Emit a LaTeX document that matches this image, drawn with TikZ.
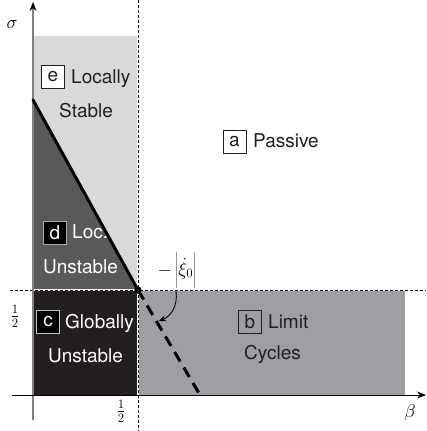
\RequirePackage{fix-cm}
\documentclass[tikz,border=0pt]{standalone}
\usepackage{fontspec}
\setmainfont{TeX Gyre Heros}
\usetikzlibrary{arrows.meta}
\definecolor{regE}{RGB}{217,217,218}
\definecolor{regD}{RGB}{88,89,91}
\definecolor{regC}{RGB}{35,31,32}
\definecolor{regB}{RGB}{157,159,162}
\definecolor{txt}{RGB}{35,31,32}
\tikzset{
  lbox/.style={draw=txt, line width=0.7pt, fill=white, text=txt, minimum size=23pt, inner sep=0pt},
  dbox/.style={draw=black!35, line width=0.7pt, fill=black, text=white, minimum size=23pt, inner sep=0pt},
  word/.style={anchor=base west, inner sep=0pt, text=txt},
  wword/.style={anchor=base west, inner sep=0pt, text=white},
  mlab/.style={inner sep=0pt, text=black, font=\fontsize{18.5}{21}\selectfont},
  guide/.style={line width=0.6pt, dash pattern=on 3pt off 2pt},
  gap/.style={white, line width=2pt},
  bound/.style={line width=3pt, black}
}
\begin{document}
\begin{tikzpicture}[x=1pt,y=-1pt,font=\fontsize{19}{21}\selectfont]
\useasboundingbox (0,0) rectangle (426,431);
% regions
\fill[regE] (33,36) rectangle (138,290);
\fill[regD] (33,100) -- (138,290) -- (33,290) -- cycle;
\fill[regC] (33,290) rectangle (138,395);
\fill[regB] (138,290) rectangle (405,395);
% guides
\coordinate (vt) at (138,0);
\coordinate (vb) at (138,431);
\coordinate (hl) at (10,290);
\coordinate (hr) at (426,290);
\draw[gap] (vt) -- (vb);
\draw[gap] (hl) -- (hr);
\draw[guide] (vt) -- (vb);
\draw[guide] (hl) -- (hr);
% axes
\coordinate (yb) at (33,420);
\coordinate (yt) at (33,2);
\coordinate (xl) at (12,395);
\coordinate (xr) at (426,395);
\draw[black!50, line width=1.4pt, -{Stealth[length=9pt,width=7pt,color=black]}] (yb) -- (yt);
\draw[black, line width=0.9pt, -{Stealth[length=9pt,width=7pt]}] (xl) -- (xr);
% boundary
\coordinate (p0) at (33,100);
\coordinate (p1) at (138,290);
\coordinate (p2) at (200,395);
\draw[bound, line cap=round] (p0) -- (p1);
\draw[bound, dash pattern=on 11pt off 7pt] (p1) -- (p2);
\fill (p1) circle (3.6pt);
% labels
\node[mlab] (sig) at (12,25) {$\sigma$};
\node[mlab] (bet) at (410,413) {$\beta$};
\node[mlab] (hy) at (15,316) {$\frac{1}{2}$};
\node[mlab] (hx) at (121,411) {$\frac{1}{2}$};
\node[mlab] (xi) at (177,270) {$-\left|\rule[-14pt]{0pt}{38pt}\dot{\xi}_0\right|$};
\coordinate (as) at (176,291);
\draw[line width=0.9pt, -{Stealth[length=7pt,width=6pt]}] (as) .. controls (178,306) and (171,316) .. (159,321);
% region texts
\node[lbox] (eB) at (53,77) {e};
\node[word] (eW) at (71,83) {Locally};
\node[word] (eW2) at (59,117) {Stable};
\node[dbox] (dB) at (55,233) {d};
\node[wword] (dW) at (72,238) {Loc.};
\node[wword] (dW2) at (43,273) {Unstable};
\node[dbox, draw=black!25] (cB) at (48,322) {c};
\node[wword] (cW) at (65,328) {Globally};
\node[wword] (cW2) at (48,362) {Unstable};
\node[lbox, fill=none] (bB) at (250,322) {b};
\node[word] (bW) at (268,328) {Limit};
\node[word] (bW2) at (244,359) {Cycles};
\node[lbox] (aB) at (234.5,141.5) {a};
\node[word] (aW) at (253,147) {Passive};
\end{tikzpicture}
\end{document}
